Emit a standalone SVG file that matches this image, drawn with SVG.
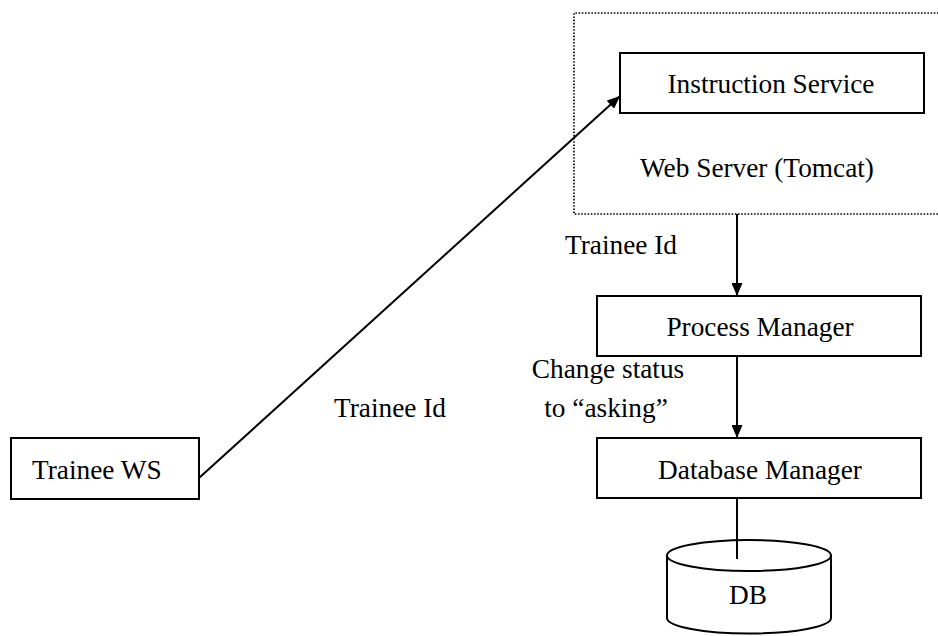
<svg xmlns="http://www.w3.org/2000/svg" width="938" height="636" viewBox="0 0 938 636">
<style>
.box{fill:#fff;stroke:#000;stroke-width:2}
.t{font-family:"Liberation Serif","Times New Roman",serif;font-size:27.3px;fill:#000}
.c{text-anchor:middle}
.ln{stroke:#000;stroke-width:2;fill:none}
</style>
<defs>
<marker id="arr" viewBox="0 0 13 11" refX="13" refY="5.5" markerWidth="13" markerHeight="11" markerUnits="userSpaceOnUse" orient="auto">
<path d="M0,0 L13,5.5 L0,11 Z" fill="#000"/>
</marker>
</defs>
<rect width="938" height="636" fill="#fff"/>
<g id="webserver">
<path d="M945,13 L574,13 L574,214 L945,214" fill="none" stroke="#000" stroke-width="1.6" stroke-dasharray="1.6 1.6"/>
<text class="t c" x="757" y="177">Web Server (Tomcat)</text>
</g>
<g id="instruction">
<rect class="box" x="620" y="53" width="304" height="60"/>
<text class="t c" x="771" y="93">Instruction Service</text>
</g>
<g id="process">
<rect class="box" x="597" y="296" width="324" height="60"/>
<text class="t c" x="760" y="336">Process Manager</text>
</g>
<g id="database">
<rect class="box" x="597" y="438" width="324" height="60"/>
<text class="t c" x="760" y="479">Database Manager</text>
</g>
<g id="trainee">
<rect class="box" x="11" y="438" width="188" height="61"/>
<text class="t" x="32" y="479">Trainee WS</text>
</g>
<g id="db">
<path class="ln" d="M667,555 L667,618 A82,15.5 0 0 0 831,618 L831,555" fill="#fff"/>
<ellipse cx="749" cy="555.5" rx="82" ry="15.5" fill="#fff" stroke="#000" stroke-width="2"/>
<text class="t c" x="748" y="604">DB</text>
</g>
<g id="connectors">
<line class="ln" x1="199" y1="478" x2="620" y2="96" marker-end="url(#arr)"/>
<line class="ln" x1="737" y1="214" x2="737" y2="296" marker-end="url(#arr)"/>
<line class="ln" x1="737" y1="356" x2="737" y2="438" marker-end="url(#arr)"/>
<line class="ln" x1="737" y1="498" x2="737" y2="559"/>
<text class="t c" x="621" y="254">Trainee Id</text>
<text class="t c" x="390" y="417">Trainee Id</text>
<text class="t c" x="608" y="378">Change status</text>
<text class="t c" x="606" y="417">to “asking”</text>
</g>
</svg>
